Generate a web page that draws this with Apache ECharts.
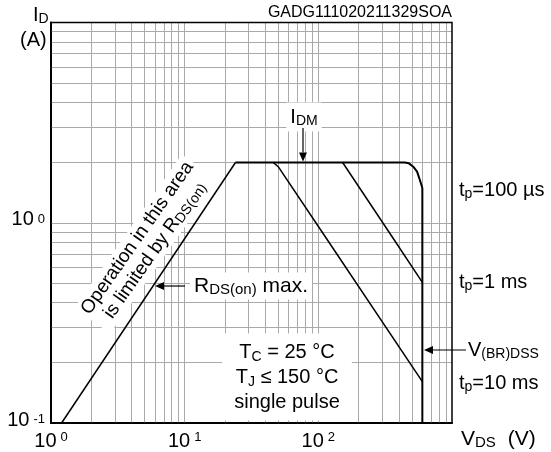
<!DOCTYPE html>
<html><head><meta charset="utf-8">
<script src="https://cdn.jsdelivr.net/npm/echarts@6/dist/echarts.min.js"></script>
<style>html,body{margin:0;padding:0;background:#fff}#c{width:551px;height:452px}</style>
</head><body><div id="c"></div>
<script>
const FONT = '"Liberation Sans", Arial, sans-serif';

// axis ranges and grid lines
const xRange = [1, 1000];
const yRange = [0.1, 10];
const xGridValues = [2,3,4,5,6,7,8,9,10,20,30,40,50,60,70,80,90,100,200,300,400,500,600,700,800,900];
const yGridValues = [0.2,0.3,0.4,0.5,0.6,0.7,0.8,0.9,1,2,3,4,5,6,7,8,9];
const xTickLabels = {1: '0', 10: '1', 100: '2'};
const yTickLabels = {0.1: '-1', 1: '0'};

// curves (V_DS in V, I_D in A)
const rdsV = [1.2, 24];
const rdsI = [0.1, 2];
const idmV = [24, 444, 476, 513, 548, 575, 600];
const idmI = [2, 2, 1.98, 1.905, 1.8, 1.635, 1.49];
const bvV = [600, 600];
const bvI = [1.49, 0.1];
const ms1V = [152, 370, 600];
const ms1I = [2, 0.82, 0.504];
const ms10V = [46, 50.1, 117, 600];
const ms10I = [2, 1.905, 0.82, 0.161];

const zip = (a, b) => a.map((v, i) => [v, b[i]]);

const N = 20, S = 14;
const mk = (n, s, lh) => ({
  n: {fontSize: n, fontFamily: FONT, color: '#000', lineHeight: lh},
  s: {fontSize: s, fontFamily: FONT, color: '#000', lineHeight: s + 1, verticalAlign: 'bottom'},
  v: {fontSize: n, fontFamily: FONT, color: '#000', lineHeight: lh, padding: [0, 0, 0, 12]}
});
const rich = mk(N, S, 23);

function curve(name, data, w) {
  return {
    name, type: 'line', data, symbol: 'none', z: 5, silent: true,
    lineStyle: {color: '#000', width: w}, animation: false
  };
}

const chart = echarts.init(document.getElementById('c'), null, {renderer: 'canvas'});

function txt(x, y, text, opts) {
  return Object.assign({
    type: 'text', x, y, z: 3, silent: true,
    style: Object.assign({text, rich, align: 'left', verticalAlign: 'middle', fill: '#000',
      fontSize: N, fontFamily: FONT}, opts && opts.style || {})
  }, opts && opts.el || {});
}
function arrow(x1, y1, x2, y2) {
  const dx = x2 - x1, dy = y2 - y1, L = Math.hypot(dx, dy);
  const ux = dx / L, uy = dy / L, hl = 9, hw = 4;
  const bx = x2 - ux * hl, by = y2 - uy * hl;
  return [
    {type: 'line', z: 6, silent: true, shape: {x1, y1, x2: bx, y2: by}, style: {stroke: '#000', lineWidth: 1.2}},
    {type: 'polygon', z: 6, silent: true, shape: {points: [[x2, y2], [bx - uy * hw, by + ux * hw], [bx + uy * hw, by - ux * hw]]}, style: {fill: '#000'}}
  ];
}

const graphics = [
  txt(452, 13, 'GADG111020211329SOA', {style: {align: 'right', fontSize: 16}}),
  txt(33, 15, '{n|I}{s|D}'),
  txt(20, 40, '{n|(A)}'),
  txt(461, 439, '{n|V}{s|DS}{v|(V)}', {style: {rich: mk(21, 15, 23)}}),
  txt(304, 117, '{n|I}{s|DM}', {style: {align: 'center', backgroundColor: '#fff', padding: [3, 4]}}),
  txt(190, 286, '{n|R}{s|DS(on)}{n| max.}', {style: {backgroundColor: '#fff', padding: [2, 4], rich: mk(21, 15, 23)}}),
  txt(146, 244, '{n|Operation in this area}\n{n|is limited by R}{s|DS(on)}',
    {style: {align: 'center', backgroundColor: '#fff', padding: [1, 3], rich: mk(19, 14, 21)}, el: {rotation: 0.96}}),
  txt(287, 377, '{n|T}{s|C}{n| = 25 °C}\n{n|T}{s|J}{n| ≤ 150 °C}\n{n|single pulse}',
    {style: {align: 'center', backgroundColor: '#fff', padding: [6, 12], rich: mk(N, S, 25)}}),
  txt(459, 190, '{n|t}{s|p}{n|=100 µs}'),
  txt(459, 282, '{n|t}{s|p}{n|=1 ms}'),
  txt(459, 383, '{n|t}{s|p}{n|=10 ms}'),
  txt(468, 350, '{n|V}{s|(BR)DSS}'),
  ...arrow(185, 286, 155, 286),
  ...arrow(303, 128, 303, 161.5),
  ...arrow(466, 350, 424, 350)
];

const option = {
  animation: false,
  backgroundColor: '#fff',
  grid: {left: 51, right: 99, top: 22.5, bottom: 29, show: true, borderColor: '#000', borderWidth: 1.5, z: 4},
  xAxis: {
    type: 'log', logBase: 10, min: xRange[0], max: xRange[1],
    axisLine: {show: true, lineStyle: {color: '#000', width: 2}},
    axisTick: {show: false}, splitLine: {show: false}, minorTick: {show: false},
    axisLabel: {
      margin: 8,
      formatter: v => xTickLabels[Math.round(v)] !== undefined ? '{b|10}{e|' + xTickLabels[Math.round(v)] + '}' : '',
      rich: {
        b: {fontSize: N, fontFamily: FONT, color: '#000', lineHeight: 20},
        e: {fontSize: S - 1, fontFamily: FONT, color: '#000', lineHeight: 12, verticalAlign: 'top', padding: [0, 0, 0, 4]}
      }
    }
  },
  yAxis: {
    type: 'log', logBase: 10, min: yRange[0], max: yRange[1],
    axisLine: {show: true, lineStyle: {color: '#000', width: 2}},
    axisTick: {show: false}, splitLine: {show: false}, minorTick: {show: false},
    axisLabel: {
      margin: 6,
      formatter: v => {
        const k = Math.abs(v - 0.1) < 1e-6 ? 0.1 : (Math.abs(v - 1) < 1e-6 ? 1 : null);
        return k !== null ? '{b|10}{e|' + yTickLabels[k] + '}' : '';
      },
      rich: {
        b: {fontSize: N, fontFamily: FONT, color: '#000', lineHeight: 20, padding: [0, 0, 6, 0]},
        e: {fontSize: S - 1, fontFamily: FONT, color: '#000', lineHeight: 12, verticalAlign: 'top', padding: [0, 0, 0, 4]}
      }
    }
  },
  series: [
    {
      name: 'grid', type: 'line', data: [[xRange[0], yRange[0]]], symbol: 'none', z: 1, silent: true,
      lineStyle: {opacity: 0},
      markLine: {
        z: 1, silent: true, symbol: 'none', animation: false, label: {show: false},
        lineStyle: {color: '#a9a9a9', width: 1, type: 'solid'},
        data: xGridValues.map(v => ({xAxis: v})).concat(yGridValues.map(v => ({yAxis: v})))
      }
    },
    curve('RDS(on) max', zip(rdsV, rdsI), 1.5),
    curve('IDM / tp=100 µs', zip(idmV, idmI), 2),
    curve('V(BR)DSS', zip(bvV, bvI), 2),
    curve('tp=1 ms', zip(ms1V, ms1I), 1.5),
    curve('tp=10 ms', zip(ms10V, ms10I), 1.5)
  ],
  graphic: {elements: graphics}
};
chart.setOption(option);
</script></body></html>
